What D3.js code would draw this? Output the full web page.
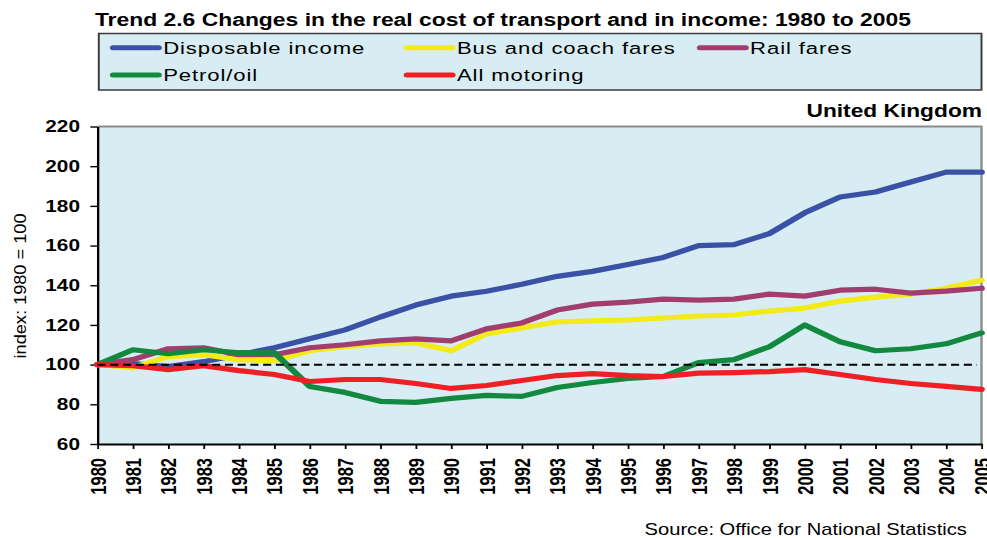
<!DOCTYPE html>
<html>
<head>
<meta charset="utf-8">
<script src="https://cdn.jsdelivr.net/npm/d3@7"></script>
<style>
  html, body { margin: 0; padding: 0; background: #fff; }
  svg { display: block; font-family: "Liberation Sans", Arial, sans-serif; }
</style>
</head>
<body>
<div class="chart"></div>
<script>
// data (index, 1980 = 100)
var years = d3.range(1980, 2006);
var income   = [100, 100.5, 99, 101.5, 105, 108.5, 113, 117.5, 124, 130, 134.5, 137, 140.5, 144.5, 147, 150.5, 154, 160, 160.5, 166, 176.5, 184.5, 187, 192, 197, 197];
var busFares = [100, 98.5, 104, 105, 102.5, 102, 107, 109, 110.5, 111, 107, 115.5, 118.5, 121.5, 122, 122.5, 123.5, 124.5, 125, 127, 128.5, 132, 134, 135.5, 138.5, 142.5];
var railFares = [100, 102.5, 108, 108.5, 105, 105, 108.5, 110, 112, 113, 112, 118, 121, 127.5, 130.5, 131.5, 133, 132.5, 133, 135.5, 134.5, 137.5, 138, 136, 137, 138.5];
var petrol   = [100, 107.5, 105.5, 107.5, 106, 106, 89, 86, 81.5, 81, 83, 84.5, 84, 88.5, 91, 93, 94, 101, 102.5, 109, 120, 111.5, 107, 108, 110.5, 116];
var motoring = [100, 99.5, 97.5, 99.5, 97, 95, 91.5, 92.5, 92.5, 90.5, 88, 89.5, 92, 94.5, 95.5, 94.5, 94, 95.7, 96, 96.5, 97.5, 95, 92.5, 90.5, 89, 87.5];

var seriesNames = ["Disposable income", "Bus and coach fares", "Rail fares", "Petrol/oil", "All motoring"];
var seriesColors = ["#3b51a6", "#f3ea17", "#a23d6f", "#13893f", "#ee2026"];
var seriesValues = [income, busFares, railFares, petrol, motoring];
var yTicks = [60, 80, 100, 120, 140, 160, 180, 200, 220];

// the original picture is stretched sideways, so draw in a narrower box and stretch it
var k = 1.3;
var W = 987 / k, H = 538;
var pLeft = 75, pRight = 755, pTop = 126.5, pBottom = 444;

var svg = d3.select("body .chart").append("svg")
    .attr("width", 987).attr("height", H)
    .attr("viewBox", "0 0 " + W + " " + H)
    .attr("preserveAspectRatio", "none");

var x = d3.scaleLinear().domain([1980, 2005]).range([pLeft, pRight]);
var y = d3.scaleLinear().domain([60, 220]).range([pBottom, pTop]);

// title
svg.append("text")
    .attr("x", 73).attr("y", 26)
    .style("font-weight", "bold").style("font-size", "17.6px")
    .text("Trend 2.6 Changes in the real cost of transport and in income: 1980 to 2005");

// legend
svg.append("rect")
    .attr("x", 76).attr("y", 33.5).attr("width", 679).attr("height", 56.5)
    .attr("fill", "#d7edf3").attr("stroke", "#3a3a3a").attr("stroke-width", 1.5);

var colX = [87, 313, 538.5], rowY = [47.7, 75];
var leg = svg.selectAll("g.leg")
    .data(seriesNames)
    .enter().append("g")
    .attr("class", "leg")
    .attr("transform", function(d, i){
        return "translate(" + colX[i % 3] + "," + rowY[Math.floor(i / 3)] + ")";
    });
leg.append("line")
    .attr("x1", 0).attr("x2", 35).attr("y1", 0).attr("y2", 0)
    .attr("stroke", function(d, i){ return seriesColors[i]; })
    .attr("stroke-width", 5).attr("stroke-linecap", "round");
leg.append("text")
    .attr("x", 38.5).attr("y", 5.8)
    .style("font-size", "17px").style("letter-spacing", "0.7px")
    .text(function(d){ return d; });

svg.append("text")
    .attr("x", 755.4).attr("y", 117).attr("text-anchor", "end")
    .style("font-weight", "bold").style("font-size", "17.5px")
    .text("United Kingdom");

// plot background + grey frame on top/right
svg.append("rect")
    .attr("x", pLeft).attr("y", pTop).attr("width", pRight - pLeft).attr("height", pBottom - pTop)
    .attr("fill", "#d7edf3");
svg.append("path")
    .attr("d", "M" + pLeft + "," + pTop + "H" + pRight + "V" + pBottom)
    .attr("fill", "none").attr("stroke", "#8c8c8c").attr("stroke-width", 1.8);

// axes
var yAxis = d3.axisLeft(y).tickValues(yTicks).tickSize(5.5).tickSizeOuter(0).tickPadding(8);
var xAxis = d3.axisBottom(x).tickValues(years).tickFormat(d3.format("d")).tickSize(5).tickSizeOuter(0);

var gy = svg.append("g").attr("transform", "translate(" + pLeft + ",0)").call(yAxis);
gy.selectAll("text").style("font-size", "16px").style("font-weight", "bold").attr("fill", "#000");

var gx = svg.append("g").attr("transform", "translate(0," + pBottom + ")").call(xAxis);
gx.selectAll("text")
    .attr("transform", "rotate(-90)")
    .attr("text-anchor", "end")
    .attr("x", -14).attr("y", 0).attr("dy", "0.35em")
    .style("font-size", "16.5px").style("font-weight", "bold").attr("fill", "#000");

[gx, gy].forEach(function(g){
    g.select(".domain").attr("stroke", "#000").attr("stroke-width", 1.8);
    g.selectAll(".tick line").attr("stroke", "#000").attr("stroke-width", 1.4);
});

// y axis title
svg.append("text")
    .attr("transform", "translate(15.4,286) rotate(-90)")
    .attr("text-anchor", "middle").attr("dy", "0.35em")
    .attr("textLength", 145).attr("lengthAdjust", "spacingAndGlyphs")
    .style("font-size", "13px")
    .text("index: 1980 = 100");

// series lines
var line = d3.line()
    .x(function(d, i){ return x(years[i]); })
    .y(function(d){ return y(d); });

svg.selectAll("path.series")
    .data(seriesValues)
    .enter().append("path")
    .attr("class", "series")
    .attr("d", line)
    .attr("fill", "none")
    .attr("stroke", function(d, i){ return seriesColors[i]; })
    .attr("stroke-width", 5.2)
    .attr("stroke-linejoin", "round")
    .attr("stroke-linecap", "round");

// 1980 = 100 reference line
svg.append("line")
    .attr("x1", x(1980)).attr("x2", x(2005) - 3.5)
    .attr("y1", y(100)).attr("y2", y(100))
    .attr("stroke", "#000").attr("stroke-width", 2)
    .attr("stroke-dasharray", "6.2,3.6");

// source
svg.append("text")
    .attr("x", 743.8).attr("y", 535).attr("text-anchor", "end")
    .attr("textLength", 248).attr("lengthAdjust", "spacingAndGlyphs")
    .style("font-size", "16px")
    .text("Source: Office for National Statistics");
</script>
</body>
</html>
